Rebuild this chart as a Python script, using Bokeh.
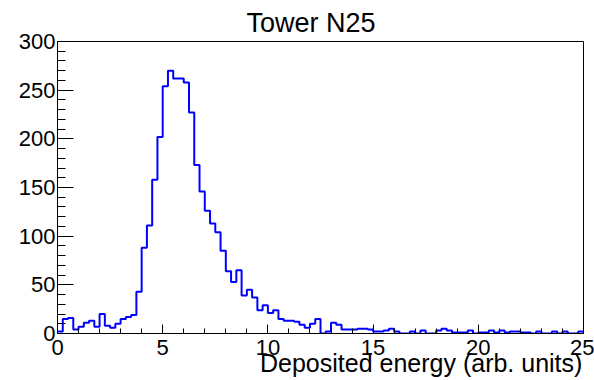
import numpy as np
from bokeh.plotting import figure
from bokeh.models import Range1d, SingleIntervalTicker
from bokeh.embed import file_html
from bokeh.resources import INLINE

# Histogram: 100 bins of width 0.25 over [0, 25]
bin_width = 0.25
x_min, x_max = 0, 25
counts = [
    2, 15, 16, 4, 7, 11, 13, 7, 20, 8,
    6, 10, 15, 17, 19, 43, 88, 111, 158, 202,
    254, 270, 262, 262, 258, 227, 173, 146, 126, 113,
    104, 85, 64, 53, 65, 39, 45, 37, 24, 29,
    21, 24, 15, 13, 13, 12, 9, 6, 10, 15,
    0, 2, 11, 9, 4, 4, 4, 5, 5, 4,
    2, 2, 3, 5, 2, 0, 0, 2, 0, 3,
    0, 0, 3, 5, 3, 1, 1, 1, 3, 0,
    1, 1, 3, 1, 3, 1, 2, 2, 1, 1,
    0, 2, 0, 0, 2, 0, 2, 0, 0, 2,
]
title_text = "Tower N25"
x_title = "Deposited energy (arb. units)"

edges = x_min + bin_width * np.arange(len(counts) + 1)
step_y = list(counts) + [counts[-1]]

FONT = "Liberation Sans"

p = figure(width=594, height=380, output_backend="svg", toolbar_location=None,
           x_range=Range1d(0, 25), y_range=Range1d(0, 300),
           min_border_left=57, min_border_right=11, min_border_top=41, min_border_bottom=47)

p.title.text = title_text
p.title.align = "left"
p.title.offset = 189
p.title.text_font = FONT
p.title.text_font_size = "27px"
p.title.text_font_style = "normal"
p.title.text_color = "black"
p.title.standoff = 8

p.grid.visible = False
p.outline_line_color = "black"
p.outline_line_alpha = 1
p.outline_line_width = 1
p.background_fill_color = "white"
p.border_fill_color = "white"

p.xaxis.ticker = SingleIntervalTicker(interval=5, num_minor_ticks=5)
p.yaxis.ticker = SingleIntervalTicker(interval=50, num_minor_ticks=5)
for ax, maj, mnr in ((p.xaxis, 9, 5), (p.yaxis, 16, 8)):
    ax.major_tick_in = maj
    ax.major_tick_out = 0
    ax.minor_tick_in = mnr
    ax.minor_tick_out = 0
    ax.major_tick_line_color = "black"
    ax.minor_tick_line_color = "black"
    ax.axis_line_color = "black"
    ax.major_label_text_font = FONT
    ax.major_label_text_font_size = "22px"
    ax.major_label_text_color = "black"
p.xaxis.major_label_standoff = 6
p.yaxis.major_label_standoff = 2

# ROOT places the x title flush right; Bokeh centres axis labels, so the
# centred label is padded on the left with non-breaking spaces.
p.xaxis.axis_label = "\u00a0" * 29 + x_title
p.xaxis.axis_label_standoff = -9
p.xaxis.axis_label_text_font = FONT
p.xaxis.axis_label_text_font_size = "25px"
p.xaxis.axis_label_text_font_style = "normal"
p.xaxis.axis_label_text_color = "black"

p.step(x=edges, y=step_y, mode="after", line_color="#0000ff", line_width=2)

open("out.html", "w").write(file_html(p, INLINE))
